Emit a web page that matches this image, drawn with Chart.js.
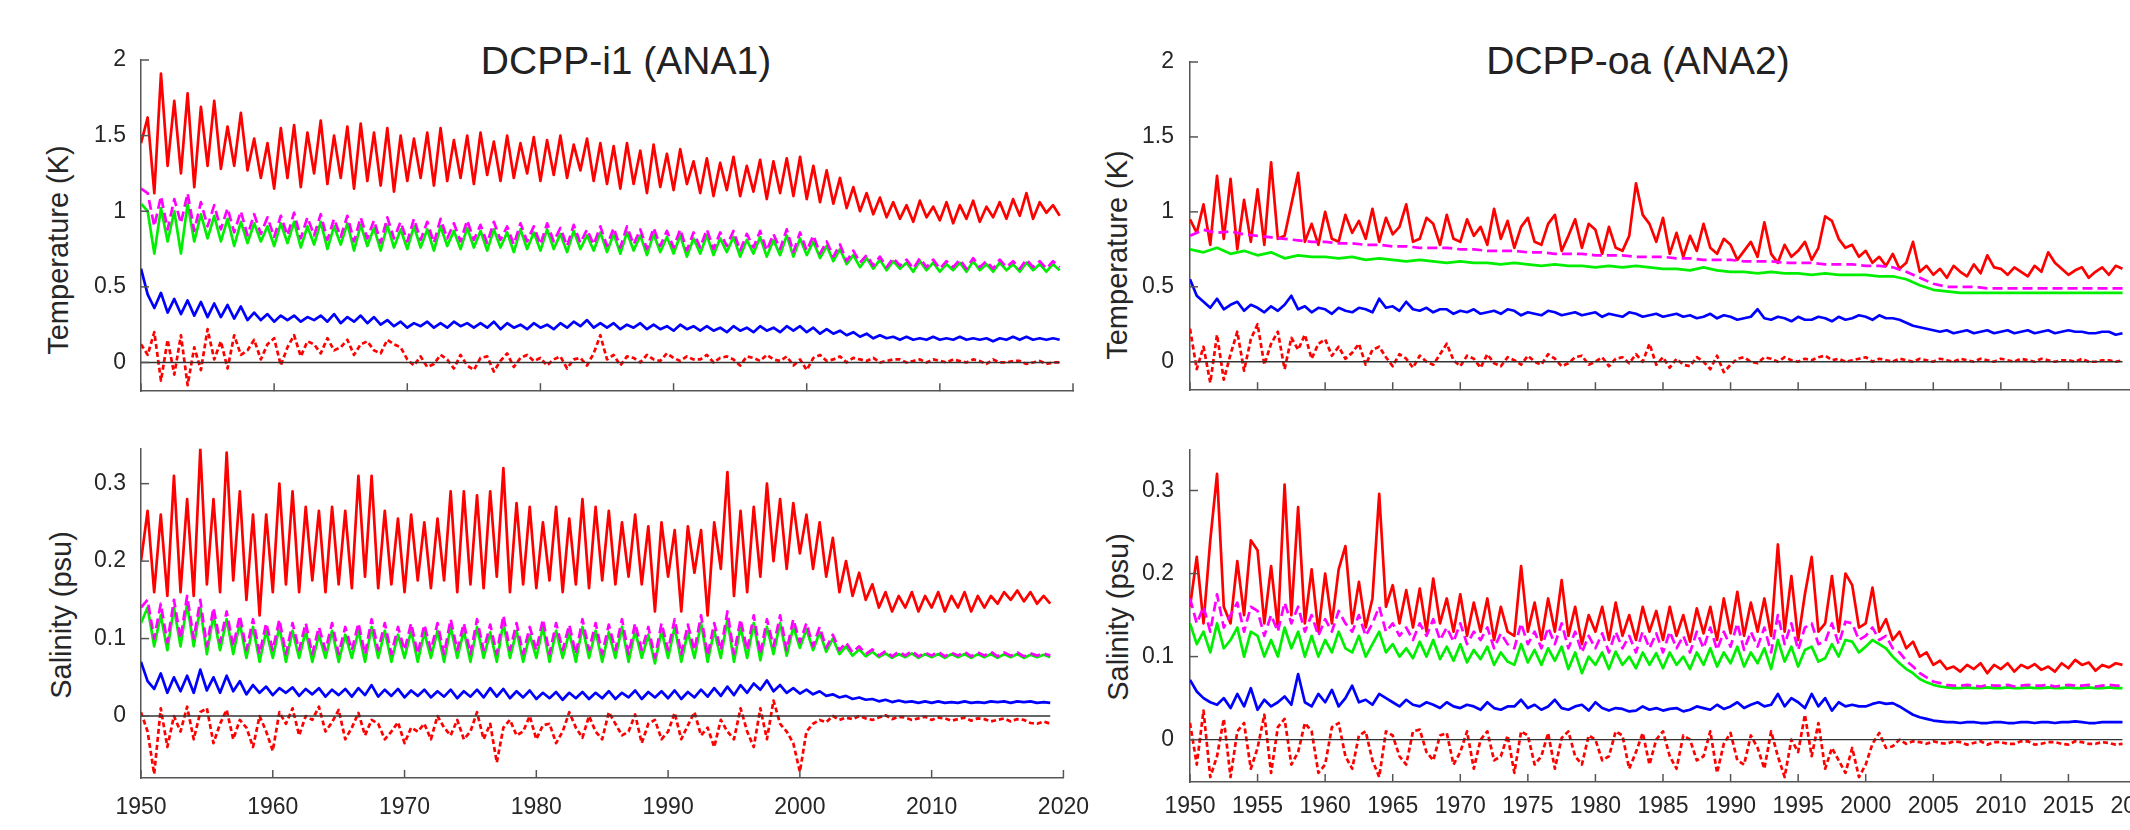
<!DOCTYPE html>
<html>
<head>
<meta charset="utf-8">
<script src="https://cdn.jsdelivr.net/npm/chart.js@4.4.1/dist/chart.umd.min.js"></script>
<style>
    body { margin: 0; width: 2130px; height: 830px; overflow: hidden; background: #fff; font-family: 'Liberation Sans', Arial, sans-serif; }
    canvas { position: absolute; }
    .title { position: absolute; font-size: 39px; color: #222; transform: translate(-50%, -50%); white-space: nowrap; line-height: 1; }
    .ylab { position: absolute; font-size: 29px; color: #262626; transform: translate(-50%, -50%) rotate(-90deg); white-space: nowrap; line-height: 1; }
</style>
</head>
<body>
<div class="title" style="left:626px; top:60px">DCPP-i1 (ANA1)</div>
<div class="title" style="left:1638px; top:60px">DCPP-oa (ANA2)</div>
<div class="ylab" style="left:58px; top:250px">Temperature (K)</div>
<div class="ylab" style="left:61px; top:615px">Salinity (psu)</div>
<div class="ylab" style="left:1117px; top:255px">Temperature (K)</div>
<div class="ylab" style="left:1118px; top:617px">Salinity (psu)</div>

<canvas id="tl" width="1105" height="420" style="left:0; top:0"></canvas>
<canvas id="bl" width="1105" height="410" style="left:0; top:420px"></canvas>
<canvas id="tr" width="1100" height="420" style="left:1080px; top:0"></canvas>
<canvas id="br" width="1100" height="410" style="left:1080px; top:420px"></canvas>

<script>
// 축 눈금
const leftYearTicks = [1950, 1960, 1970, 1980, 1990, 2000, 2010, 2020]
const rightYearTicks = [1950, 1955, 1960, 1965, 1970, 1975, 1980, 1985, 1990, 1995, 2000, 2005, 2010, 2015, 2020]
const tempTicks = [0, 0.5, 1, 1.5, 2]
const salTicks = [0, 0.1, 0.2, 0.3]
const zeroLineYears = [1950, 2019]

const startYear = 1950
const endYear = 2019

// DCPP-i1 (ANA1) temperature, half-year samples
const i1TempRed = [
    1.45, 1.62, 1.12, 1.91, 1.30, 1.73, 1.25, 1.78, 1.16, 1.69,
    1.30, 1.73, 1.28, 1.56, 1.30, 1.65, 1.27, 1.48, 1.22, 1.45,
    1.15, 1.55, 1.22, 1.57, 1.16, 1.52, 1.25, 1.60, 1.18, 1.50,
    1.22, 1.56, 1.15, 1.58, 1.20, 1.52, 1.17, 1.55, 1.13, 1.50,
    1.20, 1.48, 1.22, 1.52, 1.17, 1.55, 1.20, 1.47, 1.22, 1.50,
    1.18, 1.52, 1.24, 1.46, 1.20, 1.50, 1.22, 1.45, 1.25, 1.49,
    1.20, 1.47, 1.24, 1.50, 1.22, 1.44, 1.27, 1.48, 1.20, 1.45,
    1.18, 1.43, 1.15, 1.45, 1.18, 1.40, 1.12, 1.44, 1.16, 1.38,
    1.14, 1.41, 1.18, 1.33, 1.12, 1.35, 1.10, 1.32, 1.14, 1.36,
    1.10, 1.30, 1.13, 1.34, 1.08, 1.33, 1.12, 1.35, 1.10, 1.36,
    1.08, 1.30, 1.06, 1.27, 1.05, 1.22, 1.02, 1.16, 1.00, 1.12,
    0.98, 1.09, 0.96, 1.06, 0.95, 1.04, 0.93, 1.07, 0.96, 1.03,
    0.94, 1.06, 0.92, 1.04, 0.95, 1.07, 0.93, 1.03, 0.96, 1.06,
    0.95, 1.08, 0.97, 1.12, 0.95, 1.06, 0.99, 1.04, 0.97
]
const i1TempMagenta = [
    1.15, 1.12, 0.90, 1.10, 0.88, 1.08, 0.92, 1.12, 0.87, 1.06,
    0.90, 1.04, 0.88, 1.02, 0.86, 1.00, 0.84, 0.98, 0.85, 0.96,
    0.83, 0.97, 0.84, 0.99, 0.82, 0.96, 0.84, 0.98, 0.81, 0.95,
    0.83, 0.97, 0.80, 0.96, 0.82, 0.94, 0.79, 0.96, 0.82, 0.93,
    0.80, 0.95, 0.81, 0.93, 0.79, 0.95, 0.82, 0.92, 0.80, 0.94,
    0.81, 0.91, 0.79, 0.93, 0.81, 0.90, 0.78, 0.92, 0.80, 0.90,
    0.78, 0.92, 0.80, 0.89, 0.77, 0.91, 0.79, 0.88, 0.78, 0.90,
    0.77, 0.89, 0.76, 0.90, 0.78, 0.88, 0.75, 0.89, 0.77, 0.87,
    0.76, 0.88, 0.74, 0.86, 0.76, 0.88, 0.75, 0.86, 0.77, 0.87,
    0.74, 0.85, 0.76, 0.87, 0.74, 0.85, 0.75, 0.88, 0.73, 0.86,
    0.74, 0.84, 0.72, 0.80, 0.70, 0.78, 0.67, 0.74, 0.66, 0.71,
    0.64, 0.70, 0.63, 0.69, 0.64, 0.68, 0.62, 0.69, 0.63, 0.68,
    0.62, 0.67, 0.63, 0.68, 0.62, 0.69, 0.63, 0.67, 0.62, 0.68,
    0.63, 0.67, 0.62, 0.68, 0.63, 0.67, 0.62, 0.67, 0.63
]
const i1TempGreen = [
    1.05, 1.00, 0.72, 1.02, 0.80, 1.00, 0.72, 1.05, 0.80, 0.98,
    0.82, 0.97, 0.80, 0.95, 0.77, 0.93, 0.79, 0.92, 0.80, 0.90,
    0.77, 0.92, 0.79, 0.93, 0.76, 0.90, 0.78, 0.93, 0.75, 0.90,
    0.78, 0.92, 0.74, 0.91, 0.77, 0.89, 0.74, 0.91, 0.76, 0.88,
    0.75, 0.90, 0.76, 0.88, 0.74, 0.90, 0.77, 0.87, 0.75, 0.89,
    0.76, 0.87, 0.74, 0.88, 0.76, 0.86, 0.73, 0.88, 0.75, 0.86,
    0.74, 0.88, 0.75, 0.85, 0.73, 0.87, 0.75, 0.84, 0.74, 0.86,
    0.73, 0.85, 0.72, 0.86, 0.74, 0.84, 0.71, 0.85, 0.73, 0.83,
    0.72, 0.84, 0.70, 0.82, 0.72, 0.84, 0.71, 0.82, 0.73, 0.83,
    0.70, 0.81, 0.72, 0.83, 0.70, 0.81, 0.71, 0.84, 0.70, 0.82,
    0.71, 0.80, 0.69, 0.77, 0.67, 0.75, 0.65, 0.71, 0.63, 0.69,
    0.62, 0.68, 0.61, 0.67, 0.62, 0.66, 0.60, 0.67, 0.61, 0.66,
    0.60, 0.65, 0.61, 0.66, 0.60, 0.67, 0.61, 0.65, 0.60, 0.66,
    0.61, 0.65, 0.60, 0.66, 0.61, 0.65, 0.60, 0.65, 0.61
]
const i1TempBlue = [
    0.62, 0.45, 0.36, 0.46, 0.33, 0.42, 0.32, 0.41, 0.31, 0.40,
    0.30, 0.39, 0.30, 0.38, 0.29, 0.37, 0.28, 0.33, 0.28, 0.32,
    0.27, 0.31, 0.28, 0.31, 0.27, 0.30, 0.28, 0.31, 0.27, 0.32,
    0.26, 0.30, 0.27, 0.31, 0.26, 0.30, 0.25, 0.28, 0.24, 0.27,
    0.23, 0.26, 0.24, 0.27, 0.23, 0.26, 0.23, 0.27, 0.24, 0.26,
    0.23, 0.26, 0.23, 0.27, 0.22, 0.26, 0.23, 0.25, 0.22, 0.26,
    0.23, 0.25, 0.22, 0.26, 0.23, 0.27, 0.24, 0.28, 0.23, 0.26,
    0.23, 0.26, 0.22, 0.25, 0.23, 0.26, 0.22, 0.25, 0.22, 0.24,
    0.21, 0.25, 0.22, 0.24, 0.21, 0.24, 0.21, 0.23, 0.20, 0.24,
    0.21, 0.23, 0.20, 0.24, 0.21, 0.23, 0.20, 0.24, 0.21, 0.24,
    0.20, 0.23, 0.19, 0.22, 0.19, 0.21, 0.18, 0.20, 0.17, 0.19,
    0.16, 0.18, 0.16, 0.17, 0.15, 0.17, 0.15, 0.16, 0.15, 0.17,
    0.15, 0.16, 0.15, 0.17, 0.15, 0.16, 0.15, 0.16, 0.14, 0.16,
    0.15, 0.17, 0.15, 0.17, 0.15, 0.16, 0.15, 0.16, 0.15
]
const i1TempRedDash = [
    0.12, 0.05, 0.20, -0.12, 0.15, -0.08, 0.18, -0.15, 0.10, -0.05,
    0.22, 0.02, 0.14, -0.04, 0.18, 0.05, 0.08, 0.15, 0.02, 0.12,
    0.16, -0.02, 0.10, 0.18, 0.04, 0.14, 0.12, 0.06, 0.16, 0.08,
    0.10, 0.15, 0.05, 0.12, 0.14, 0.08, 0.06, 0.15, 0.12, 0.10,
    0.02, -0.02, 0.04, -0.03, -0.01, 0.05, 0.02, -0.04, 0.05, -0.02,
    -0.05, 0.03, 0.04, -0.06, 0.01, 0.06, -0.03, 0.03, 0.05, 0.01,
    0.03, -0.02, 0.02, 0.04, -0.04, 0.02, 0.03, -0.02, 0.06, 0.18,
    0.02, 0.05, -0.02, 0.04, 0.03, 0.00, 0.05, 0.02, 0.01, 0.06,
    0.03, 0.01, 0.04, 0.02, 0.02, 0.05, 0.00, 0.03, 0.04, 0.02,
    -0.02, 0.04, 0.03, 0.01, 0.05, 0.02, 0.01, 0.04, -0.02, 0.02,
    -0.05, 0.03, 0.05, 0.01, 0.02, 0.04, 0.00, 0.03, 0.02, 0.01,
    0.03, 0.00, 0.01, 0.02, 0.02, 0.00, 0.01, 0.02, 0.00, 0.02,
    0.01, 0.00, 0.02, 0.01, 0.00, 0.02, 0.01, -0.01, 0.02, 0.00,
    0.00, 0.01, 0.01, -0.01, 0.00, 0.01, -0.01, 0.00, 0.00
]

// DCPP-i1 (ANA1) salinity
const i1SalRed = [
    0.20, 0.265, 0.16, 0.26, 0.155, 0.31, 0.16, 0.28, 0.155, 0.345,
    0.17, 0.28, 0.16, 0.34, 0.175, 0.29, 0.15, 0.26, 0.13, 0.26,
    0.16, 0.30, 0.17, 0.29, 0.16, 0.27, 0.175, 0.265, 0.16, 0.27,
    0.17, 0.265, 0.165, 0.31, 0.18, 0.31, 0.165, 0.265, 0.17, 0.255,
    0.16, 0.26, 0.175, 0.25, 0.165, 0.255, 0.175, 0.29, 0.16, 0.29,
    0.17, 0.285, 0.165, 0.29, 0.18, 0.32, 0.16, 0.275, 0.17, 0.27,
    0.165, 0.25, 0.175, 0.27, 0.16, 0.255, 0.17, 0.28, 0.165, 0.27,
    0.175, 0.265, 0.17, 0.25, 0.18, 0.26, 0.17, 0.245, 0.135, 0.25,
    0.18, 0.24, 0.135, 0.245, 0.185, 0.24, 0.13, 0.25, 0.19, 0.315,
    0.155, 0.265, 0.16, 0.27, 0.18, 0.30, 0.20, 0.28, 0.19, 0.275,
    0.21, 0.26, 0.19, 0.25, 0.18, 0.23, 0.16, 0.20, 0.155, 0.185,
    0.15, 0.17, 0.14, 0.16, 0.135, 0.155, 0.14, 0.16, 0.135, 0.155,
    0.14, 0.16, 0.135, 0.155, 0.14, 0.16, 0.135, 0.155, 0.14, 0.155,
    0.145, 0.16, 0.15, 0.162, 0.148, 0.16, 0.145, 0.155, 0.145
]
const i1SalMagenta = [
    0.14, 0.15, 0.10, 0.145, 0.095, 0.15, 0.10, 0.155, 0.10, 0.15,
    0.09, 0.14, 0.095, 0.135, 0.09, 0.13, 0.085, 0.125, 0.08, 0.12,
    0.085, 0.125, 0.08, 0.12, 0.085, 0.12, 0.08, 0.115, 0.085, 0.12,
    0.08, 0.115, 0.085, 0.12, 0.08, 0.125, 0.085, 0.12, 0.08, 0.115,
    0.085, 0.12, 0.08, 0.118, 0.085, 0.12, 0.08, 0.125, 0.085, 0.12,
    0.08, 0.125, 0.085, 0.118, 0.08, 0.13, 0.085, 0.12, 0.08, 0.115,
    0.085, 0.125, 0.08, 0.12, 0.085, 0.118, 0.08, 0.125, 0.085, 0.12,
    0.08, 0.118, 0.085, 0.125, 0.08, 0.12, 0.085, 0.115, 0.075, 0.12,
    0.085, 0.125, 0.08, 0.118, 0.085, 0.13, 0.078, 0.12, 0.085, 0.135,
    0.08, 0.125, 0.085, 0.13, 0.08, 0.125, 0.09, 0.13, 0.085, 0.125,
    0.095, 0.12, 0.09, 0.115, 0.088, 0.105, 0.085, 0.095, 0.082, 0.09,
    0.08, 0.086, 0.078, 0.084, 0.077, 0.083, 0.078, 0.084, 0.077, 0.082,
    0.078, 0.083, 0.077, 0.082, 0.078, 0.083, 0.077, 0.082, 0.078, 0.083,
    0.077, 0.082, 0.078, 0.082, 0.077, 0.081, 0.078, 0.081, 0.078
]
const i1SalGreen = [
    0.12, 0.14, 0.09, 0.13, 0.085, 0.14, 0.09, 0.145, 0.09, 0.14,
    0.08, 0.13, 0.085, 0.125, 0.08, 0.12, 0.075, 0.115, 0.07, 0.11,
    0.075, 0.115, 0.07, 0.11, 0.075, 0.11, 0.07, 0.105, 0.075, 0.11,
    0.07, 0.105, 0.075, 0.11, 0.07, 0.115, 0.075, 0.11, 0.07, 0.105,
    0.075, 0.11, 0.07, 0.108, 0.075, 0.11, 0.07, 0.115, 0.075, 0.11,
    0.07, 0.115, 0.075, 0.108, 0.07, 0.12, 0.075, 0.11, 0.07, 0.105,
    0.075, 0.115, 0.07, 0.11, 0.075, 0.108, 0.07, 0.115, 0.075, 0.11,
    0.07, 0.108, 0.075, 0.115, 0.07, 0.11, 0.075, 0.105, 0.068, 0.11,
    0.075, 0.115, 0.07, 0.108, 0.075, 0.12, 0.07, 0.11, 0.075, 0.125,
    0.07, 0.115, 0.075, 0.12, 0.072, 0.115, 0.08, 0.12, 0.078, 0.115,
    0.088, 0.112, 0.085, 0.108, 0.083, 0.10, 0.08, 0.09, 0.078, 0.086,
    0.077, 0.083, 0.076, 0.081, 0.075, 0.08, 0.076, 0.081, 0.075, 0.08,
    0.076, 0.08, 0.075, 0.08, 0.076, 0.08, 0.075, 0.08, 0.076, 0.08,
    0.075, 0.08, 0.076, 0.08, 0.075, 0.079, 0.076, 0.079, 0.076
]
const i1SalBlue = [
    0.07, 0.045, 0.035, 0.055, 0.03, 0.05, 0.032, 0.052, 0.03, 0.06,
    0.033, 0.05, 0.03, 0.052, 0.032, 0.045, 0.028, 0.04, 0.03, 0.038,
    0.027, 0.036, 0.03, 0.037, 0.026, 0.035, 0.028, 0.036, 0.025, 0.034,
    0.027, 0.035, 0.025, 0.036, 0.027, 0.04, 0.025, 0.034, 0.026, 0.035,
    0.024, 0.033, 0.026, 0.034, 0.024, 0.032, 0.025, 0.034, 0.023, 0.032,
    0.025, 0.034, 0.024, 0.036, 0.025, 0.035, 0.023, 0.032, 0.024, 0.033,
    0.022, 0.03, 0.023, 0.031, 0.021, 0.03, 0.023, 0.031, 0.022, 0.03,
    0.023, 0.032, 0.022, 0.03, 0.024, 0.033, 0.022, 0.031, 0.024, 0.032,
    0.023, 0.033, 0.022, 0.031, 0.024, 0.034, 0.025, 0.036, 0.026, 0.038,
    0.027, 0.04, 0.03, 0.042, 0.034, 0.046, 0.032, 0.04, 0.03, 0.036,
    0.029, 0.034, 0.028, 0.032, 0.026, 0.028, 0.024, 0.026, 0.022, 0.024,
    0.021, 0.022, 0.019, 0.021, 0.018, 0.02, 0.018, 0.019, 0.017, 0.019,
    0.017, 0.019, 0.017, 0.018, 0.017, 0.019, 0.017, 0.018, 0.017, 0.019,
    0.018, 0.019, 0.017, 0.019, 0.018, 0.019, 0.017, 0.018, 0.017
]
const i1SalRedDash = [
    0.005, -0.02, -0.075, 0.01, -0.04, 0.0, -0.02, 0.012, -0.03, 0.005,
    0.01, -0.035, -0.01, 0.008, -0.03, -0.005, -0.015, -0.04, 0.0, -0.02,
    -0.045, 0.005, -0.01, 0.01, -0.025, 0.0, -0.005, 0.012, -0.02, -0.008,
    0.008, -0.03, -0.015, 0.004, -0.025, -0.005, -0.01, -0.03, -0.02, -0.008,
    -0.035, -0.015, -0.02, -0.01, -0.03, 0.0, -0.015, -0.025, -0.005, -0.03,
    -0.02, 0.005, -0.03, -0.01, -0.06, -0.015, -0.005, -0.025, -0.02, 0.0,
    -0.03, -0.012, -0.01, -0.035, -0.02, 0.005, -0.015, -0.028, 0.0, -0.02,
    -0.03, 0.005, -0.01, -0.025, -0.02, 0.002, -0.035, -0.01, -0.005, -0.03,
    -0.02, 0.004, -0.03, -0.012, 0.005, -0.025, -0.015, -0.04, -0.005, -0.02,
    -0.03, 0.01, -0.02, -0.04, 0.01, -0.03, 0.02, -0.01, -0.02, -0.035,
    -0.072, -0.02, -0.01, -0.005, -0.008, 0.0, -0.005, -0.002, -0.004, 0.0,
    -0.003, -0.005, -0.002, 0.001, -0.004, -0.001, -0.002, -0.005, -0.003, -0.001,
    -0.005, -0.002, -0.003, -0.006, -0.004, -0.002, -0.006, -0.003, -0.004, -0.007,
    -0.005, -0.003, -0.007, -0.004, -0.005, -0.009, -0.01, -0.007, -0.01
]

// DCPP-oa (ANA2) temperature
const oaTempRed = [
    0.95, 0.86, 1.05, 0.78, 1.24, 0.82, 1.22, 0.75, 1.08, 0.80,
    1.15, 0.78, 1.33, 0.82, 0.84, 1.05, 1.26, 0.80, 0.92, 0.78,
    1.00, 0.82, 0.80, 0.98, 0.86, 0.94, 0.82, 1.02, 0.80, 0.96,
    0.85, 0.90, 1.05, 0.80, 0.82, 0.96, 0.92, 0.78, 0.98, 0.82,
    0.80, 0.95, 0.84, 0.90, 0.78, 1.02, 0.82, 0.94, 0.76, 0.90,
    0.96, 0.80, 0.78, 0.92, 0.98, 0.74, 0.84, 0.95, 0.76, 0.92,
    0.88, 0.72, 0.90, 0.76, 0.74, 0.84, 1.19, 0.98, 0.92, 0.80,
    0.96, 0.72, 0.86, 0.70, 0.84, 0.74, 0.92, 0.76, 0.72, 0.82,
    0.78, 0.68, 0.74, 0.80, 0.70, 0.93, 0.72, 0.66, 0.78, 0.70,
    0.74, 0.80, 0.68, 0.76, 0.97, 0.94, 0.82, 0.76, 0.78, 0.70,
    0.74, 0.66, 0.70, 0.64, 0.72, 0.62, 0.66, 0.80, 0.60, 0.64,
    0.58, 0.62, 0.56, 0.64, 0.60, 0.57, 0.65, 0.59, 0.71, 0.63,
    0.62, 0.58, 0.63, 0.60, 0.57, 0.64, 0.60, 0.73, 0.66, 0.62,
    0.58, 0.61, 0.63, 0.56, 0.60, 0.63, 0.58, 0.64, 0.62
]
// yearly samples
const oaTempMagenta = [
    0.84, 0.88, 0.86, 0.87, 0.85, 0.84, 0.83, 0.82, 0.81, 0.80,
    0.80, 0.79, 0.79, 0.78, 0.78, 0.77, 0.77, 0.76, 0.76, 0.76,
    0.75, 0.75, 0.74, 0.74, 0.74, 0.73, 0.73, 0.72, 0.72, 0.72,
    0.71, 0.71, 0.71, 0.70, 0.70, 0.70, 0.69, 0.69, 0.68, 0.68,
    0.68, 0.67, 0.67, 0.67, 0.66, 0.66, 0.66, 0.65, 0.65, 0.65,
    0.64, 0.64, 0.63, 0.60, 0.56, 0.52, 0.50, 0.50, 0.50, 0.49,
    0.49, 0.49, 0.49, 0.49, 0.49, 0.49, 0.49, 0.49, 0.49, 0.49
]
const oaTempGreen = [
    0.75, 0.73, 0.76, 0.72, 0.74, 0.71, 0.73, 0.69, 0.71, 0.70,
    0.70, 0.69, 0.70, 0.68, 0.69, 0.68, 0.67, 0.68, 0.67, 0.66,
    0.67, 0.66, 0.66, 0.65, 0.66, 0.65, 0.64, 0.65, 0.64, 0.64,
    0.63, 0.64, 0.63, 0.64, 0.63, 0.62, 0.62, 0.61, 0.63, 0.61,
    0.60, 0.60, 0.59, 0.60, 0.59, 0.59, 0.58, 0.59, 0.58, 0.58,
    0.58, 0.57, 0.57, 0.55, 0.51, 0.48, 0.47, 0.46, 0.46, 0.46,
    0.46, 0.46, 0.46, 0.46, 0.46, 0.46, 0.46, 0.46, 0.46, 0.46
]
const oaTempBlue = [
    0.55, 0.44, 0.40, 0.36, 0.42, 0.35, 0.38, 0.40, 0.34, 0.38,
    0.36, 0.33, 0.37, 0.34, 0.38, 0.44, 0.35, 0.37, 0.33, 0.36,
    0.35, 0.32, 0.36, 0.34, 0.33, 0.36, 0.35, 0.33, 0.42, 0.36,
    0.37, 0.34, 0.40, 0.35, 0.34, 0.36, 0.33, 0.35, 0.35, 0.32,
    0.34, 0.33, 0.35, 0.32, 0.33, 0.34, 0.32, 0.35, 0.34, 0.31,
    0.33, 0.32, 0.31, 0.34, 0.33, 0.31, 0.32, 0.33, 0.31, 0.32,
    0.33, 0.30, 0.32, 0.31, 0.30, 0.33, 0.32, 0.30, 0.31, 0.32,
    0.30, 0.31, 0.32, 0.30, 0.31, 0.29, 0.30, 0.32, 0.29, 0.31,
    0.30, 0.28, 0.29, 0.30, 0.35, 0.29, 0.28, 0.30, 0.29, 0.27,
    0.30, 0.28, 0.28, 0.30, 0.29, 0.27, 0.30, 0.28, 0.29, 0.31,
    0.30, 0.28, 0.31, 0.29, 0.29, 0.28, 0.26, 0.24, 0.23, 0.22,
    0.21, 0.20, 0.21, 0.19, 0.20, 0.21, 0.19, 0.20, 0.21, 0.19,
    0.20, 0.21, 0.19, 0.20, 0.21, 0.19, 0.20, 0.21, 0.19, 0.20,
    0.21, 0.20, 0.20, 0.19, 0.19, 0.20, 0.20, 0.18, 0.19
]
const oaTempRedDash = [
    0.22, -0.05, 0.10, -0.14, 0.18, -0.12, 0.05, 0.20, -0.06, 0.15,
    0.25, -0.02, 0.12, 0.20, -0.05, 0.16, 0.08, 0.18, 0.02, 0.12,
    0.15, 0.04, 0.10, 0.02, 0.06, 0.12, -0.02, 0.08, 0.10, 0.03,
    -0.03, 0.05, 0.02, -0.04, 0.04, 0.00, -0.02, 0.05, 0.12, 0.01,
    -0.03, 0.04, 0.02, -0.04, 0.05, -0.01, -0.03, 0.03, 0.01, -0.02,
    0.04, 0.00, -0.02, 0.05, 0.02, -0.03, -0.01, 0.03, 0.04, -0.02,
    0.00, 0.03, -0.03, 0.02, 0.03, -0.01, 0.05, 0.00, 0.12, -0.02,
    0.03, -0.04, 0.02, -0.02, -0.03, 0.03, 0.00, -0.05, 0.04, -0.07,
    -0.02, 0.02, 0.03, 0.00, -0.01, 0.03, 0.02, 0.00, 0.03, 0.01,
    0.00, 0.02, 0.01, 0.03, 0.04, 0.01, 0.02, 0.00, 0.01, 0.02,
    0.03, 0.00, 0.02, 0.01, 0.00, 0.02, 0.01, 0.00, 0.02, 0.01,
    0.00, 0.02, 0.01, 0.00, 0.02, 0.01, 0.00, 0.02, 0.01, 0.00,
    0.02, 0.01, 0.00, 0.02, 0.01, 0.00, 0.02, 0.01, 0.00, 0.01,
    0.01, 0.00, 0.02, 0.00, 0.00, 0.01, 0.01, 0.00, 0.01
]

// DCPP-oa (ANA2) salinity
const oaSalRed = [
    0.16, 0.22, 0.14, 0.24, 0.32, 0.16, 0.14, 0.215, 0.15, 0.24,
    0.228, 0.14, 0.209, 0.135, 0.307, 0.15, 0.28, 0.14, 0.205, 0.13,
    0.20, 0.14, 0.205, 0.233, 0.14, 0.19, 0.135, 0.17, 0.296, 0.16,
    0.186, 0.14, 0.18, 0.135, 0.182, 0.13, 0.194, 0.14, 0.17, 0.13,
    0.175, 0.125, 0.165, 0.13, 0.17, 0.12, 0.16, 0.13, 0.125, 0.209,
    0.13, 0.165, 0.12, 0.17, 0.13, 0.192, 0.125, 0.16, 0.115, 0.15,
    0.13, 0.16, 0.12, 0.165, 0.125, 0.15, 0.12, 0.16, 0.13, 0.155,
    0.12, 0.16, 0.125, 0.15, 0.118, 0.158, 0.128, 0.16, 0.12, 0.17,
    0.128, 0.178, 0.125, 0.165, 0.13, 0.17, 0.125, 0.235, 0.13, 0.197,
    0.12, 0.175, 0.22, 0.13, 0.14, 0.197, 0.13, 0.20, 0.186, 0.135,
    0.14, 0.183, 0.13, 0.145, 0.12, 0.13, 0.11, 0.118, 0.10, 0.105,
    0.09, 0.095, 0.085, 0.088, 0.082, 0.09, 0.085, 0.092, 0.08, 0.09,
    0.085, 0.092, 0.082, 0.09, 0.086, 0.091, 0.084, 0.088, 0.082, 0.092,
    0.086, 0.096, 0.09, 0.093, 0.083, 0.09, 0.087, 0.092, 0.09
]
const oaSalMagenta = [
    0.17, 0.14, 0.16, 0.13, 0.175, 0.135, 0.15, 0.165, 0.13, 0.16,
    0.155, 0.125, 0.15, 0.13, 0.165, 0.14, 0.16, 0.13, 0.15, 0.125,
    0.145, 0.13, 0.155, 0.14, 0.13, 0.15, 0.125, 0.14, 0.16, 0.13,
    0.14, 0.125, 0.135, 0.12, 0.14, 0.125, 0.145, 0.12, 0.135, 0.118,
    0.14, 0.115, 0.13, 0.12, 0.135, 0.11, 0.128, 0.115, 0.11, 0.14,
    0.115, 0.13, 0.11, 0.135, 0.115, 0.14, 0.11, 0.13, 0.105, 0.125,
    0.11, 0.128, 0.105, 0.13, 0.11, 0.125, 0.105, 0.13, 0.11, 0.128,
    0.105, 0.13, 0.11, 0.125, 0.105, 0.13, 0.11, 0.135, 0.108, 0.13,
    0.112, 0.14, 0.108, 0.13, 0.112, 0.135, 0.105, 0.15, 0.115, 0.14,
    0.108, 0.135, 0.14, 0.115, 0.118, 0.14, 0.115, 0.142, 0.14, 0.12,
    0.125, 0.135, 0.12, 0.125, 0.11, 0.105, 0.095, 0.088, 0.08, 0.075,
    0.07, 0.068, 0.066, 0.065, 0.065, 0.066, 0.065, 0.064, 0.066, 0.065,
    0.065, 0.066, 0.064, 0.065, 0.066, 0.065, 0.065, 0.066, 0.064, 0.065,
    0.066, 0.065, 0.065, 0.066, 0.064, 0.065, 0.066, 0.065, 0.065
]
const oaSalGreen = [
    0.14, 0.115, 0.13, 0.105, 0.14, 0.11, 0.12, 0.135, 0.10, 0.13,
    0.125, 0.10, 0.12, 0.10, 0.135, 0.11, 0.13, 0.10, 0.125, 0.10,
    0.12, 0.105, 0.13, 0.11, 0.105, 0.125, 0.10, 0.115, 0.13, 0.105,
    0.115, 0.10, 0.11, 0.098, 0.118, 0.10, 0.12, 0.097, 0.112, 0.095,
    0.115, 0.093, 0.108, 0.097, 0.112, 0.09, 0.105, 0.094, 0.09, 0.115,
    0.093, 0.108, 0.09, 0.11, 0.095, 0.112, 0.085, 0.105, 0.08, 0.10,
    0.09, 0.105, 0.085, 0.106, 0.09, 0.10, 0.086, 0.105, 0.09, 0.104,
    0.086, 0.105, 0.09, 0.10, 0.085, 0.105, 0.09, 0.11, 0.088, 0.105,
    0.092, 0.112, 0.088, 0.105, 0.092, 0.11, 0.085, 0.12, 0.094, 0.112,
    0.088, 0.108, 0.112, 0.094, 0.098, 0.115, 0.10, 0.12, 0.118, 0.105,
    0.112, 0.12, 0.115, 0.11, 0.10, 0.092, 0.085, 0.08, 0.073, 0.069,
    0.066, 0.064, 0.063, 0.062, 0.062, 0.063, 0.062, 0.062, 0.063, 0.062,
    0.062, 0.063, 0.062, 0.062, 0.063, 0.062, 0.062, 0.063, 0.062, 0.062,
    0.063, 0.062, 0.062, 0.063, 0.062, 0.062, 0.063, 0.062, 0.062
]
const oaSalBlue = [
    0.072, 0.058, 0.05, 0.045, 0.042, 0.05, 0.038, 0.055, 0.04, 0.062,
    0.036, 0.048, 0.04, 0.045, 0.052, 0.042, 0.079, 0.045, 0.04, 0.055,
    0.045, 0.06, 0.04, 0.05, 0.065, 0.045, 0.048, 0.042, 0.055, 0.05,
    0.045, 0.04, 0.048, 0.042, 0.04, 0.045, 0.042, 0.038, 0.045, 0.04,
    0.038, 0.042, 0.04, 0.036, 0.045, 0.038, 0.036, 0.04, 0.04, 0.048,
    0.038, 0.042, 0.036, 0.04, 0.048, 0.038, 0.036, 0.04, 0.042, 0.035,
    0.045, 0.038, 0.035, 0.038, 0.037, 0.034, 0.035, 0.04, 0.036, 0.038,
    0.035, 0.037, 0.038, 0.034, 0.036, 0.04, 0.038, 0.036, 0.042, 0.037,
    0.04, 0.045, 0.038, 0.042, 0.045, 0.04, 0.042, 0.055, 0.04, 0.05,
    0.045, 0.038, 0.055, 0.04, 0.05, 0.035, 0.045, 0.04, 0.042, 0.04,
    0.04, 0.043, 0.045, 0.043, 0.044, 0.04, 0.035, 0.03, 0.027, 0.025,
    0.023, 0.022, 0.021, 0.021, 0.02, 0.021, 0.021, 0.02, 0.02, 0.021,
    0.021, 0.02, 0.02, 0.021, 0.021, 0.02, 0.021, 0.021, 0.02, 0.021,
    0.021, 0.022, 0.021, 0.02, 0.02, 0.021, 0.021, 0.021, 0.021
]
const oaSalRedDash = [
    0.02, -0.03, 0.035, -0.045, -0.02, 0.025, -0.045, 0.01, 0.02, -0.035,
    -0.01, 0.03, -0.04, 0.015, 0.025, -0.03, -0.015, 0.02, 0.01, -0.04,
    -0.03, 0.015, 0.02, -0.02, -0.035, 0.005, 0.01, -0.025, -0.045, 0.01,
    0.005, -0.02, -0.03, 0.01, 0.012, -0.015, -0.025, 0.005, 0.008, -0.03,
    -0.015, 0.01, -0.035, 0.0, 0.01, -0.025, -0.02, 0.005, -0.04, 0.01,
    0.005, -0.03, -0.02, 0.008, -0.035, 0.002, 0.01, -0.02, -0.03, 0.005,
    0.0, -0.025, -0.02, 0.01, 0.005, -0.035, -0.015, 0.008, -0.03, 0.0,
    0.01, -0.02, -0.035, 0.005, 0.0, -0.025, -0.02, 0.01, -0.04, -0.005,
    0.008, -0.025, -0.03, 0.005, -0.01, -0.035, 0.01, -0.02, -0.045, 0.0,
    -0.015, 0.03, -0.02, 0.02, -0.035, -0.01, -0.025, -0.04, -0.01, -0.045,
    -0.03, -0.005, 0.008, -0.01, -0.008, 0.0, -0.005, -0.002, -0.003, -0.005,
    -0.002, -0.004, -0.005, -0.002, -0.003, -0.006, -0.004, -0.002, -0.006, -0.003,
    -0.003, -0.005, -0.005, -0.002, -0.002, -0.006, -0.005, -0.003, -0.003, -0.005,
    -0.006, -0.002, -0.003, -0.005, -0.005, -0.003, -0.004, -0.006, -0.005
]

const fontFamily = "'Liberation Sans', Arial, sans-serif"

// 값 배열을 1950~2019 시간축 위의 점으로 변환
function toPoints(values) {
    const step = (endYear - startYear) / (values.length - 1)
    return values.map((v, i) => ({ x: startYear + i * step, y: v }))
}

// MATLAB 스타일 안쪽 눈금
const innerTicks = {
    id: 'innerTicks',
    afterDraw(chart) {
        const { ctx, chartArea: a, scales: { x, y } } = chart
        ctx.save()
        ctx.strokeStyle = '#555'
        ctx.lineWidth = 1.5
        x.ticks.forEach(t => {
            const px = x.getPixelForValue(t.value)
            ctx.beginPath()
            ctx.moveTo(px, a.bottom)
            ctx.lineTo(px, a.bottom - 8)
            ctx.stroke()
        })
        y.ticks.forEach(t => {
            const py = y.getPixelForValue(t.value)
            ctx.beginPath()
            ctx.moveTo(a.left, py)
            ctx.lineTo(a.left + 8, py)
            ctx.stroke()
        })
        ctx.restore()
    }
}

function makePanel(id, cfg) {
    const line = { pointRadius: 0, borderWidth: 2.7, fill: false, tension: 0, borderJoinStyle: 'round' }
    const datasets = [
        { ...line, data: zeroLineYears.map(yr => ({ x: yr, y: 0 })), borderColor: '#333', borderWidth: 1.4 },
        { ...line, data: toPoints(cfg.redDash), borderColor: '#ff0000', borderDash: [5, 3] },
        { ...line, data: toPoints(cfg.blue), borderColor: '#0000ff' },
        { ...line, data: toPoints(cfg.magenta), borderColor: '#ff00ff', borderDash: [10, 5] },
        { ...line, data: toPoints(cfg.green), borderColor: '#00ee00' },
        { ...line, data: toPoints(cfg.red), borderColor: '#ff0000' }
    ]
    const tickFont = { family: fontFamily, size: 23 }
    return new Chart(document.getElementById(id), {
        type: 'line',
        data: { datasets },
        options: {
            responsive: false,
            animation: false,
            layout: { padding: cfg.padding },
            plugins: { legend: { display: false }, tooltip: { enabled: false } },
            scales: {
                x: {
                    type: 'linear', min: 1950, max: 2020,
                    grid: { display: false, drawTicks: false },
                    border: { display: true, color: '#555', width: 1.5 },
                    ticks: {
                        display: cfg.showXLabels, autoSkip: false, maxRotation: 0, minRotation: 0,
                        padding: cfg.xPad, font: tickFont, color: '#262626',
                        callback: v => String(v)
                    },
                    afterBuildTicks: s => { s.ticks = cfg.xTicks.map(v => ({ value: v })) },
                    afterFit: s => { s.height = cfg.xHeight }
                },
                y: {
                    type: 'linear', min: cfg.yMin, max: cfg.yMax,
                    grid: { display: false, drawTicks: false },
                    border: { display: true, color: '#555', width: 1.5 },
                    ticks: { padding: cfg.yPad, font: tickFont, color: '#262626', callback: v => String(v) },
                    afterBuildTicks: s => { s.ticks = cfg.yTicks.map(v => ({ value: v })) },
                    afterFit: s => { s.width = cfg.yWidth }
                }
            }
        },
        plugins: [innerTicks]
    })
}

makePanel('tl', {
    red: i1TempRed, magenta: i1TempMagenta, green: i1TempGreen, blue: i1TempBlue, redDash: i1TempRedDash,
    yMin: -0.19, yMax: 2.0, yTicks: tempTicks, xTicks: leftYearTicks, showXLabels: false,
    yWidth: 141, xHeight: 4, xPad: 0, yPad: 15,
    padding: { top: 60, right: 32, bottom: 8, left: 0 }
})
makePanel('bl', {
    red: i1SalRed, magenta: i1SalMagenta, green: i1SalGreen, blue: i1SalBlue, redDash: i1SalRedDash,
    yMin: -0.08, yMax: 0.345, yTicks: salTicks, xTicks: leftYearTicks, showXLabels: true,
    yWidth: 141, xHeight: 52, xPad: 16, yPad: 15,
    padding: { top: 10, right: 32, bottom: 0, left: 0 }
})
makePanel('tr', {
    red: oaTempRed, magenta: oaTempMagenta, green: oaTempGreen, blue: oaTempBlue, redDash: oaTempRedDash,
    yMin: -0.19, yMax: 2.0, yTicks: tempTicks, xTicks: rightYearTicks, showXLabels: false,
    yWidth: 110, xHeight: 4, xPad: 0, yPad: 16,
    padding: { top: 62, right: 44, bottom: 6, left: 0 }
})
makePanel('br', {
    red: oaSalRed, magenta: oaSalMagenta, green: oaSalGreen, blue: oaSalBlue, redDash: oaSalRedDash,
    yMin: -0.051, yMax: 0.349, yTicks: salTicks, xTicks: rightYearTicks, showXLabels: true,
    yWidth: 110, xHeight: 48, xPad: 11, yPad: 16,
    padding: { top: 10, right: 44, bottom: 0, left: 0 }
})
</script>
</body>
</html>
